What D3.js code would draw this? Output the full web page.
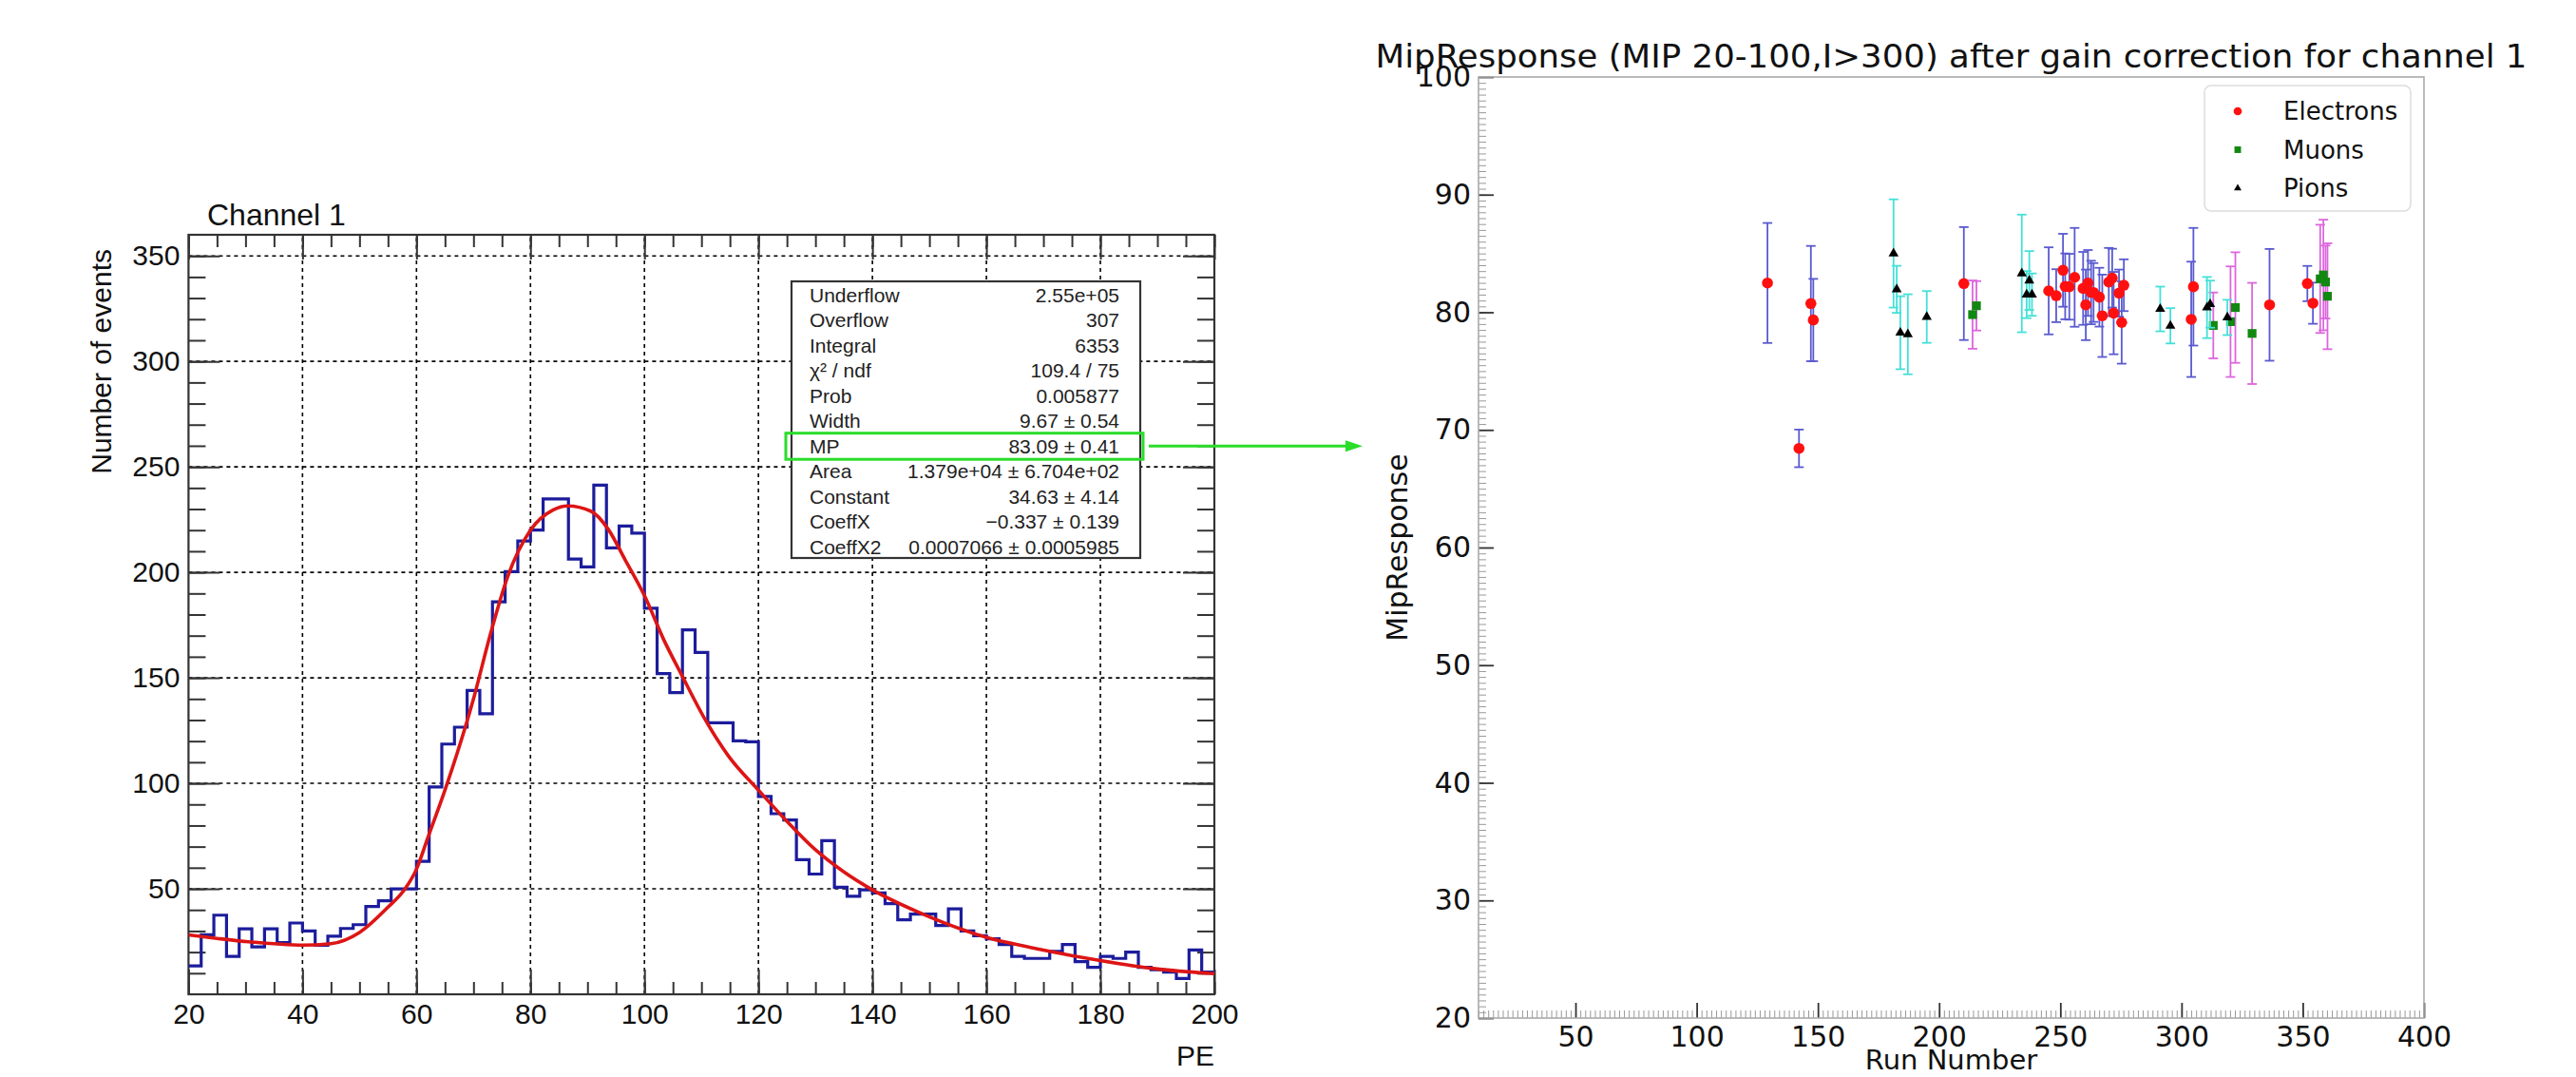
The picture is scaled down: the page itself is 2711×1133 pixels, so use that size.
<!DOCTYPE html>
<html><head><meta charset="utf-8">
<script src="https://cdn.jsdelivr.net/npm/d3@7"></script>
<style>
html,body{margin:0;padding:0;background:#fff;}
svg{display:block;}
</style></head><body>
<svg id="c" width="2711" height="1133"></svg>
<script>
// ---------------- DATA: left panel (histogram) ----------------
const histLow = 20, histHigh = 200;
const histValues = [13.5,28.2,37.5,18,31,22.5,31,24.5,33.8,30,
  23.3,27.5,31.2,33,41.6,44.3,50,50,63,98.3,
  118.6,126.6,144,133,186,200.3,214.9,220,234.8,234.8,
  206.3,202.6,241.3,211.6,222,218.6,183,152,143,172.7,
  162,128.7,128.7,120.1,119.7,93.8,85.6,82.6,63.8,57,
  72.8,50.7,46.5,49.5,48,43,35.3,38,38,32.6,
  40.5,30,27.8,26.3,23.6,18,17,17,20.3,23.6,
  15.5,12.8,18,17,20,12.8,11.6,10.5,7.5,21,10.5];
const fitPE  = [20,25,30,35,40,45,50,55,58,60,62,65,70,73,76,80,84,86.5,90.6,93.6,96.6,100,103.4,106.6,110.7,115,120,125,130,135,140,148,160,170,180,190,200];
const fitVal = [28.2,26.5,25,24,23.3,24,29.3,41.3,50,59.3,74.3,96.8,140,171,198,220,229.6,231.5,229,220.6,206,189,168,151,130,112,96.8,82,68.5,58,49.5,39,27,21,16,12,9.8];
const xTicksL = [20,40,60,80,100,120,140,160,180,200];
const yTicksL = [50,100,150,200,250,300,350];
const statsLabels = ["Underflow","Overflow","Integral","χ² / ndf","Prob","Width","MP","Area","Constant","CoeffX","CoeffX2"];
const statsValues = ["2.55e+05","307","6353","109.4 / 75","0.005877","9.67 ± 0.54","83.09 ± 0.41","1.379e+04 ± 6.704e+02","34.63 ± 4.14","−0.337 ± 0.139","0.0007066 ± 0.0005985"];
const highlightRow = "MP";

// ---------------- DATA: right panel (MIP response) ----------------
const elecRun = [129.2,142.2,147.1,148.1,210.2,245.2,248.3,251.1,252.0,253.7,255.9,259.4,260.5,261.4,262.7,263.7,266.1,267.3,270.0,271.4,272.0,274.2,275.3,276.2,304.0,304.9,336.3,351.9,354.2];
const elecVal = [82.49,68.43,80.74,79.34,82.44,81.82,81.41,83.57,82.2,82.17,82.97,82.03,80.63,82.49,81.68,81.68,81.28,79.7,82.57,82.9,79.93,81.63,79.13,82.3,79.4,82.17,80.63,82.44,80.77];
const elecErr = [5.1,1.6,4.9,3.5,4.8,3.7,2.25,3.1,2.8,2.8,4.2,3.1,3.0,2.8,2.7,2.5,2.5,3.5,2.9,2.5,3.5,2.0,3.5,2.2,4.9,5.0,4.75,1.5,1.75];
const muonRun = [213.8,215.4,313.1,320.2,322.2,329.1,357.2,358.5,359.4,360.2];
const muonVal = [79.8,80.55,78.88,79.2,80.4,78.2,82.84,83.17,82.57,81.36];
const muonErr = [2.9,2.1,2.8,4.7,4.7,4.3,4.6,4.7,3.1,4.5];
const pionRun = [181.2,182.5,184.0,187.1,194.9,234.1,237.2,236.1,238.3,291.2,295.4,310.5,311.8,318.9];
const pionVal = [85.0,81.95,78.26,78.13,79.6,83.3,82.7,81.5,81.5,80.28,78.85,80.4,80.69,79.56];
const pionErr = [4.6,2.0,3.1,3.4,2.2,5.0,2.5,2.0,1.8,1.9,1.5,2.6,2.0,1.5];
const xTicksR = [50,100,150,200,250,300,350,400];
const yTicksR = [20,30,40,50,60,70,80,90,100];
const legendNames = ["Electrons","Muons","Pions"];

// ---------------- DRAW ----------------
const svg = d3.select("#c");
svg.append("rect").attr("width",2711).attr("height",1133).attr("fill","#fff");

const ROOTF = "'Liberation Sans', Arial, Helvetica, sans-serif";
const MPLF = "'DejaVu Sans', sans-serif";

// ===== Left panel =====
const xL = d3.scaleLinear().domain([20,200]).range([198.4,1278]);
const yL = d3.scaleLinear().domain([0,360]).range([1046,247]);
const L = svg.append("g");

// grid
const grid = L.append("g").attr("stroke","#000").attr("stroke-width",1.6).attr("stroke-dasharray","4,4");
xTicksL.filter(v=>v>20 && v<200).forEach(v=>{
  grid.append("line").attr("x1",xL(v)).attr("x2",xL(v)).attr("y1",yL(0)).attr("y2",yL(360));
});
yTicksL.forEach(v=>{
  grid.append("line").attr("x1",xL(20)).attr("x2",xL(200)).attr("y1",yL(v)).attr("y2",yL(v));
});

function clean(g, col, w){
  g.select(".domain").remove();
  g.selectAll(".tick line").attr("stroke",col).attr("stroke-width",w);
  return g;
}
// bottom axis
clean(L.append("g").attr("transform",`translate(0,${yL(0)})`)
  .call(d3.axisBottom(xL).tickValues(d3.range(20,201,5)).tickSizeInner(-13).tickSizeOuter(0).tickFormat("")),"#333",2);
const bx = clean(L.append("g").attr("transform",`translate(0,${yL(0)})`)
  .call(d3.axisBottom(xL).tickValues(xTicksL).tickSizeInner(-26).tickSizeOuter(0).tickPadding(10).tickFormat(d3.format("d"))),"#333",2);
bx.selectAll("text").attr("font-family",ROOTF).attr("font-size",30).attr("fill","#111");
// top axis
clean(L.append("g").attr("transform",`translate(0,${yL(360)})`)
  .call(d3.axisTop(xL).tickValues(d3.range(20,201,5)).tickSizeInner(-13).tickSizeOuter(0).tickFormat("")),"#333",2);
clean(L.append("g").attr("transform",`translate(0,${yL(360)})`)
  .call(d3.axisTop(xL).tickValues(xTicksL).tickSizeInner(-26).tickSizeOuter(0).tickFormat("")),"#333",2);
// left axis
clean(L.append("g").attr("transform",`translate(${xL(20)},0)`)
  .call(d3.axisLeft(yL).tickValues(d3.range(10,360,10)).tickSizeInner(-18).tickSizeOuter(0).tickFormat("")),"#333",2);
const ly = clean(L.append("g").attr("transform",`translate(${xL(20)},0)`)
  .call(d3.axisLeft(yL).tickValues(yTicksL).tickSizeInner(-33).tickSizeOuter(0).tickPadding(9).tickFormat(d3.format("d"))),"#333",2);
ly.selectAll("text").attr("font-family",ROOTF).attr("font-size",30).attr("fill","#111");
// right axis
clean(L.append("g").attr("transform",`translate(${xL(200)},0)`)
  .call(d3.axisRight(yL).tickValues(d3.range(10,360,10)).tickSizeInner(-18).tickSizeOuter(0).tickFormat("")),"#333",2);
clean(L.append("g").attr("transform",`translate(${xL(200)},0)`)
  .call(d3.axisRight(yL).tickValues(yTicksL).tickSizeInner(-33).tickSizeOuter(0).tickFormat("")),"#333",2);

// frame
L.append("rect").attr("x",xL(20)).attr("y",yL(360)).attr("width",xL(200)-xL(20)).attr("height",yL(0)-yL(360))
  .attr("fill","none").attr("stroke","#333").attr("stroke-width",2.2);

// clip
svg.append("defs").append("clipPath").attr("id","clipL").append("rect")
  .attr("x",xL(20)).attr("y",yL(360)).attr("width",xL(200)-xL(20)).attr("height",yL(0)-yL(360));

// histogram
const bw = (histHigh-histLow)/histValues.length;
const histPts = histValues.map((v,i)=>[histLow+i*bw, v]);
histPts.push([histHigh, histValues[histValues.length-1]]);
L.append("path").attr("clip-path","url(#clipL)")
  .attr("d", d3.line().x(d=>xL(d[0])).y(d=>yL(d[1])).curve(d3.curveStepAfter)(histPts))
  .attr("fill","none").attr("stroke","#1c1c9c").attr("stroke-width",3.2);

// fit curve
L.append("path").attr("clip-path","url(#clipL)")
  .attr("d", d3.line().x((d,i)=>xL(fitPE[i])).y((d,i)=>yL(fitVal[i])).curve(d3.curveMonotoneX)(fitPE))
  .attr("fill","none").attr("stroke","#dd1515").attr("stroke-width",3.6);

// titles
L.append("text").attr("x",218).attr("y",237).attr("font-family",ROOTF).attr("font-size",32).attr("fill","#111").text("Channel 1");
L.append("text").attr("transform","translate(117,262) rotate(-90)").attr("text-anchor","end")
  .attr("font-family",ROOTF).attr("font-size",30).attr("fill","#111").text("Number of events");
L.append("text").attr("x",1278).attr("y",1121).attr("text-anchor","end")
  .attr("font-family",ROOTF).attr("font-size",30).attr("fill","#111").text("PE");

// stats box
const sb = {x0:833, y0:296, x1:1200, y1:587};
L.append("rect").attr("x",sb.x0).attr("y",sb.y0).attr("width",sb.x1-sb.x0).attr("height",sb.y1-sb.y0)
  .attr("fill","#fff").attr("stroke","#333").attr("stroke-width",2.2);
statsLabels.forEach((lab,i)=>{
  const yb = 318 + i*26.45;
  L.append("text").attr("x",852).attr("y",yb).attr("font-family",ROOTF).attr("font-size",21).attr("fill","#222").text(lab);
  L.append("text").attr("x",1178).attr("y",yb).attr("text-anchor","end").attr("font-family",ROOTF).attr("font-size",21).attr("fill","#222").text(statsValues[i]);
});
// highlight + arrow
const hi = statsLabels.indexOf(highlightRow);
const hy = 318 + hi*26.45 - 7.5;
L.append("rect").attr("x",827).attr("y",hy-13.5).attr("width",376).attr("height",27.5)
  .attr("fill","none").attr("stroke","#2add2a").attr("stroke-width",3);
L.append("line").attr("x1",1209).attr("x2",1420).attr("y1",hy).attr("y2",hy).attr("stroke","#2add2a").attr("stroke-width",3);
L.append("path").attr("d",`M1434,${hy} L1416,${hy-6} L1416,${hy+6} Z`).attr("fill","#2add2a");

// ===== Right panel =====
const xR = d3.scaleLinear().domain([10,400]).range([1556,2551]);
const yR = d3.scaleLinear().domain([20,100]).range([1071,81]);
const R = svg.append("g");

// minor / major ticks (inward)
clean(R.append("g").attr("transform",`translate(0,${yR(20)})`)
  .call(d3.axisBottom(xR).tickValues(d3.range(10,401,2)).tickSizeInner(-8).tickSizeOuter(0).tickFormat("")),"#999",1);
const rbx = clean(R.append("g").attr("transform",`translate(0,${yR(20)})`)
  .call(d3.axisBottom(xR).tickValues(xTicksR).tickSizeInner(-16).tickSizeOuter(0).tickPadding(9).tickFormat(d3.format("d"))),"#333",1.8);
rbx.selectAll("text").attr("font-family",MPLF).attr("font-size",30).attr("fill","#111");
clean(R.append("g").attr("transform",`translate(${xR(10)},0)`)
  .call(d3.axisLeft(yR).tickValues(d3.range(20,100.01,0.5)).tickSizeInner(-8).tickSizeOuter(0).tickFormat("")),"#999",1);
const rly = clean(R.append("g").attr("transform",`translate(${xR(10)},0)`)
  .call(d3.axisLeft(yR).tickValues(yTicksR).tickSizeInner(-16).tickSizeOuter(0).tickPadding(8).tickFormat(d3.format("d"))),"#333",1.8);
rly.selectAll("text").attr("font-family",MPLF).attr("font-size",30).attr("fill","#111");

// spines
R.append("rect").attr("x",xR(10)).attr("y",yR(100)).attr("width",xR(400)-xR(10)).attr("height",yR(20)-yR(100))
  .attr("fill","none").attr("stroke","#aaa").attr("stroke-width",1.6);

// labels
R.append("text").attr("x",(xR(10)+xR(400))/2).attr("y",71).attr("text-anchor","middle")
  .attr("font-family",MPLF).attr("font-size",33).attr("fill","#111")
  .attr("textLength",1212).attr("lengthAdjust","spacingAndGlyphs")
  .text("MipResponse (MIP 20-100,I>300) after gain correction for channel 1");
R.append("text").attr("x",(xR(10)+xR(400))/2).attr("y",1125).attr("text-anchor","middle")
  .attr("font-family",MPLF).attr("font-size",29).attr("fill","#111").text("Run Number");
R.append("text").attr("transform",`translate(1481,${(yR(20)+yR(100))/2}) rotate(-90)`).attr("text-anchor","middle")
  .attr("font-family",MPLF).attr("font-size",30).attr("fill","#111").text("MipResponse");

// series
function drawSeries(runs, vals, errs, errColor, drawMarker){
  const g = R.append("g");
  runs.forEach((r,i)=>{
    const x = xR(r), yt = yR(vals[i]+errs[i]), yb = yR(vals[i]-errs[i]);
    g.append("line").attr("x1",x).attr("x2",x).attr("y1",yt).attr("y2",yb).attr("stroke",errColor).attr("stroke-width",1.8);
    g.append("line").attr("x1",x-5).attr("x2",x+5).attr("y1",yt).attr("y2",yt).attr("stroke",errColor).attr("stroke-width",1.8);
    g.append("line").attr("x1",x-5).attr("x2",x+5).attr("y1",yb).attr("y2",yb).attr("stroke",errColor).attr("stroke-width",1.8);
  });
  runs.forEach((r,i)=>drawMarker(g, xR(r), yR(vals[i]), 1));
}
const markerE = (g,x,y,s)=>g.append("circle").attr("cx",x).attr("cy",y).attr("r",5.8*s).attr("fill","#ff1010");
const markerM = (g,x,y,s)=>g.append("rect").attr("x",x-4.6*s).attr("y",y-4.6*s).attr("width",9.2*s).attr("height",9.2*s).attr("fill","#118811");
const markerP = (g,x,y,s)=>g.append("path").attr("transform",`translate(${x},${y})`)
  .attr("d",d3.symbol(d3.symbolTriangle, 48*s*s)()).attr("fill","#000");

drawSeries(elecRun, elecVal, elecErr, "#5a5ad0", markerE);
drawSeries(muonRun, muonVal, muonErr, "#dd66dd", markerM);
drawSeries(pionRun, pionVal, pionErr, "#44e0d8", markerP);

// legend
const lg = R.append("g");
lg.append("rect").attr("x",2320).attr("y",90).attr("width",217).attr("height",132).attr("rx",7)
  .attr("fill","#fff").attr("fill-opacity",0.85).attr("stroke","#ddd").attr("stroke-width",1.5);
const legendMarkers = [markerE, markerM, markerP];
legendNames.forEach((n,i)=>{
  const y = 117 + i*40.5;
  legendMarkers[i](lg, 2355, y, 0.75);
  lg.append("text").attr("x",2403).attr("y",y+9).attr("font-family",MPLF).attr("font-size",26).attr("fill","#111").text(n);
});
</script>
</body></html>
